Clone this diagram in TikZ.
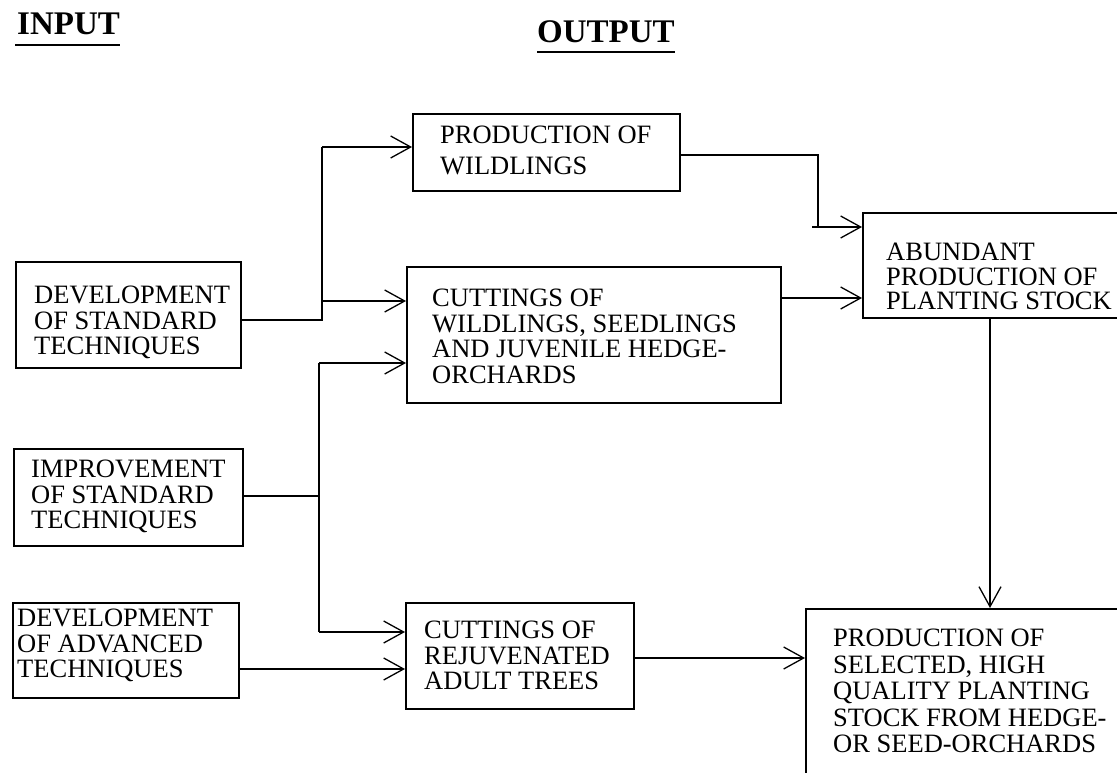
\documentclass[tikz,border=0pt]{standalone}
\usepackage{fontspec}
\setmainfont{Liberation Serif}
\usetikzlibrary{arrows.meta,calc}
\begin{document}
\begin{tikzpicture}[x=1pt,y=-1pt,
  boxshape/.style={draw=black,line width=1.6pt,rectangle,inner sep=0pt,anchor=north west},
  lbl/.style={inner sep=0pt,anchor=north west,align=left,font=\fontsize{26.5pt}{25.5pt}\selectfont},
  head/.style={inner sep=0pt,anchor=base west,font=\fontsize{33pt}{36pt}\selectfont\bfseries},
  ul/.style={line width=1.8pt},
  conn/.style={line width=1.3pt},
  arr/.style={line width=1.3pt,-{Straight Barb[length=20pt,width=22pt,line width=1.3pt]}}
]
\useasboundingbox (0,0) rectangle (1117,773);
\fill[white] (0,0) rectangle (1117,773);
\clip (0,0) rectangle (1117,773);

% headings
\node[head] (hin) at (17,35) {INPUT};
\node[head] (hout) at (537,43) {OUTPUT};
\draw[ul] ($(hin.base west)+(-2,10)$) -- ($(hin.base east)+(0,10)$);
\draw[ul] ($(hout.base west)+(0,9)$) -- ($(hout.base east)+(0,9)$);

% input boxes
\node[boxshape,minimum width=225pt,minimum height=106pt] (devstd) at (15,261) {};
\node[lbl] (devstdT) at (34,286) {DEVELOPMENT\\OF STANDARD\\TECHNIQUES};
\node[boxshape,minimum width=229pt,minimum height=97pt] (improve) at (13,448) {};
\node[lbl] (improveT) at (31,460) {IMPROVEMENT\\OF STANDARD\\TECHNIQUES};
\node[boxshape,minimum width=226pt,minimum height=95pt] (devadv) at (12,602) {};
\node[lbl] (devadvT) at (17,609) {DEVELOPMENT\\OF ADVANCED\\TECHNIQUES};

% output boxes
\node[boxshape,minimum width=267pt,minimum height=77pt] (wild) at (412,113) {};
\node[lbl,font=\fontsize{26.5pt}{31pt}\selectfont] (wildT) at (440,126) {PRODUCTION OF\\WILDLINGS};
\node[boxshape,minimum width=374pt,minimum height=136pt] (cut) at (406,266) {};
\node[lbl] (cutT) at (432,289) {CUTTINGS OF\\WILDLINGS, SEEDLINGS\\AND JUVENILE HEDGE-\\ORCHARDS};
\node[boxshape,minimum width=228pt,minimum height=106pt] (rejuv) at (405,602) {};
\node[lbl] (rejuvT) at (424,621) {CUTTINGS OF\\REJUVENATED\\ADULT TREES};
\node[boxshape,minimum width=280pt,minimum height=105pt] (abund) at (862,212) {};
\node[lbl,font=\fontsize{26.5pt}{24.5pt}\selectfont] (abundT) at (886,243) {ABUNDANT\\PRODUCTION OF\\PLANTING STOCK};
\node[boxshape,minimum width=330pt,minimum height=200pt] (prodsel) at (805,608) {};
\node[lbl,font=\fontsize{26.5pt}{26.5pt}\selectfont] (prodselT) at (833,629) {PRODUCTION OF\\SELECTED, HIGH\\QUALITY PLANTING\\STOCK FROM HEDGE-\\OR SEED-ORCHARDS};

% helper coordinates
\coordinate (j1) at (322,320);
\coordinate (j1top) at (322,147);
\coordinate (j1mid) at (322,301);
\coordinate (j2) at (319,496);
\coordinate (j2top) at (319,363);
\coordinate (j2bot) at (319,632);
\coordinate (y669) at (0,669);
\coordinate (w1) at (818,155);
\coordinate (w2) at (818,227);
\coordinate (w3) at (812,227);
\coordinate (y298) at (0,298);
\coordinate (y658) at (0,658);
\coordinate (x990) at (990,0);

% connectors
\draw[conn] (devstd.east |- j1) -- (j1) -- (j1top);
\draw[arr] (j1top) -- (wild.west |- j1top);
\draw[arr] (j1mid) -- (cut.west |- j1mid);
\draw[conn] (improve.east |- j2) -- (j2);
\draw[conn] (j2top) -- (j2bot);
\draw[arr] (j2top) -- (cut.west |- j2top);
\draw[arr] (j2bot) -- (rejuv.west |- j2bot);
\draw[arr] (devadv.east |- y669) -- (rejuv.west |- y669);
\draw[conn] (wild.east |- w1) -- (w1) -- (w2);
\draw[arr] (w3) -- (abund.west |- w3);
\draw[arr] (cut.east |- y298) -- (abund.west |- y298);
\draw[arr] (rejuv.east |- y658) -- (prodsel.west |- y658);
\draw[arr] (abund.south -| x990) -- (prodsel.north -| x990);
\end{tikzpicture}
\end{document}
